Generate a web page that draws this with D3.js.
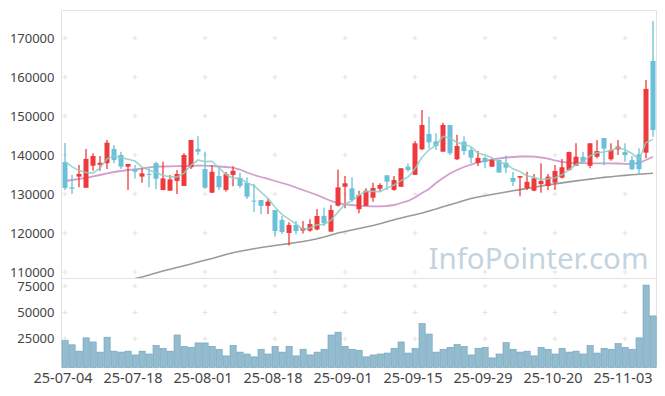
<!DOCTYPE html>
<html>
<head>
<meta charset="utf-8">
<script src="https://cdn.jsdelivr.net/npm/d3@7"></script>
<style>
  body { margin: 0; background: #fff; }
  text { font-family: "Noto Sans", sans-serif; }
</style>
</head>
<body>
<div id="chart"></div>
<script>
// trading days shown on the chart
var dates = [
  "25-07-04", "25-07-07", "25-07-08", "25-07-09", "25-07-10", "25-07-11", "25-07-14", "25-07-15", "25-07-16", "25-07-17",
  "25-07-18", "25-07-21", "25-07-22", "25-07-23", "25-07-24", "25-07-25", "25-07-28", "25-07-29", "25-07-30", "25-07-31",
  "25-08-01", "25-08-04", "25-08-05", "25-08-06", "25-08-07", "25-08-08", "25-08-11", "25-08-12", "25-08-13", "25-08-14",
  "25-08-18", "25-08-19", "25-08-20", "25-08-21", "25-08-22", "25-08-25", "25-08-26", "25-08-27", "25-08-28", "25-08-29",
  "25-09-01", "25-09-02", "25-09-03", "25-09-04", "25-09-05", "25-09-08", "25-09-09", "25-09-10", "25-09-11", "25-09-12",
  "25-09-15", "25-09-16", "25-09-17", "25-09-18", "25-09-19", "25-09-22", "25-09-23", "25-09-24", "25-09-25", "25-09-26",
  "25-09-29", "25-09-30", "25-10-01", "25-10-02", "25-10-10", "25-10-13", "25-10-14", "25-10-15", "25-10-16", "25-10-17",
  "25-10-20", "25-10-21", "25-10-22", "25-10-23", "25-10-24", "25-10-27", "25-10-28", "25-10-29", "25-10-30", "25-10-31",
  "25-11-03", "25-11-04", "25-11-05", "25-11-06", "25-11-07"
];

var openPrice = [
  138200, 131700, 134450, 131600, 137250, 137500, 137900, 141550, 140000, 137000,
  136400, 134450, 135150, 137900, 131000, 130850, 133350, 132050, 136850, 141550,
  136400, 130350, 134600, 131050, 134900, 134100, 132850, 128300, 128450, 126950,
  125900, 123350, 120000, 122050, 120600, 120600, 120900, 124400, 120350, 127000,
  131850, 131450, 126100, 126950, 129050, 131350, 134800, 131050, 131850, 137000,
  134900, 141450, 145400, 143500, 140850, 147700, 138900, 143450, 141300, 138000,
  139250, 137000, 138700, 138000, 134100, 134200, 131450, 130850, 132550, 132050,
  132900, 134200, 136150, 137250, 139500, 137250, 139550, 144350, 138900, 141450,
  140750, 138700, 140200, 140600, 164100
];
var highPrice = [
  143100, 134900, 137450, 141550, 140450, 139750, 143850, 142550, 140850, 137700,
  137450, 136600, 136600, 138300, 138300, 134900, 136150, 140450, 143850, 144800,
  140850, 137450, 137000, 135650, 137100, 135450, 134200, 132600, 128450, 128800,
  125900, 124350, 122750, 123050, 123050, 123500, 126150, 126550, 127200, 136300,
  134600, 134300, 130850, 131450, 132900, 132750, 134800, 134600, 136600, 137900,
  143600, 151550, 149800, 145550, 148300, 147700, 145200, 144800, 142050, 141000,
  139600, 138950, 138700, 139900, 135650, 134600, 135700, 135150, 137900, 135150,
  137450, 138950, 140850, 143000, 140850, 143000, 143850, 144350, 143000, 143850,
  143000, 139750, 141700, 159250, 174350
];
var lowPrice = [
  131000, 130000, 131700, 131600, 135950, 135950, 136400, 137900, 136400, 131000,
  134000, 132900, 131700, 131200, 131000, 130750, 130000, 132050, 136400, 140000,
  131300, 130200, 131000, 130650, 132000, 131550, 128700, 125400, 124800, 124850,
  119050, 119750, 116800, 119600, 119900, 120350, 120700, 121800, 120350, 126800,
  126350, 128000, 125050, 126950, 128000, 130600, 131000, 130850, 131850, 135700,
  134900, 141300, 141700, 141300, 140850, 140000, 138700, 140000, 137950, 137200,
  136600, 137000, 135500, 135400, 132050, 129400, 131050, 130700, 130300, 131050,
  131050, 134000, 135950, 137250, 137900, 136600, 139150, 137350, 138550, 140000,
  138300, 136150, 134900, 139150, 144700
];
var closePrice = [
  131550, 131350, 135150, 139000, 139750, 138000, 143150, 138700, 137000, 137700,
  135700, 135300, 134950, 133900, 134000, 133750, 135150, 140000, 143850, 140850,
  131600, 135700, 131700, 135150, 135950, 132050, 129300, 128100, 126950, 128050,
  120500, 120250, 122050, 120500, 121300, 122300, 124350, 122500, 125900, 131700,
  132750, 128450, 129750, 130850, 131550, 132300, 133150, 133600, 136600, 136150,
  143000, 147700, 143250, 142300, 147700, 140450, 142300, 141000, 139300, 139250,
  138200, 138700, 135500, 136750, 133150, 134600, 133100, 134000, 133350, 134450,
  135900, 136850, 140750, 139550, 138200, 143000, 141000, 141650, 141300, 142150,
  140000, 136350, 136350, 156950, 146400
];

// moving averages as drawn (5, 20 and 60 day)
var ma5 = [
  138300, 137000, 136000, 135500, 135360, 136650, 139010, 139720, 139320, 138910,
  138450, 136880, 136130, 135510, 134770, 134380, 134350, 135360, 137350, 138720,
  138290, 138400, 136740, 135000, 134020, 134110, 132830, 132110, 130470, 128890,
  126580, 124770, 123560, 122270, 120920, 121280, 122100, 122190, 123270, 125350,
  127440, 128260, 129710, 130700, 130670, 130580, 131520, 132290, 133440, 134360,
  136500, 139410, 141340, 142480, 144790, 144280, 143200, 142750, 142150, 140460,
  140010, 139290, 138190, 137680, 136460, 135740, 134620, 134320, 133640, 133900,
  134160, 134910, 136260, 137500, 138350, 139770, 140600, 140780, 141130, 141920,
  141320, 140390, 138870, 143200, 144010
];
var ma20 = [
  133330, 133590, 133850, 134100, 134490, 134870, 135260, 135640, 135900, 136150,
  136330, 136540, 136800, 137000, 137050, 137100, 137130, 137180, 137230, 137260,
  137260, 137180, 137050, 136920, 136740, 136280, 135510, 134870, 134360, 133850,
  133330, 132820, 132310, 131670, 131030, 130390, 129740, 128970, 128210, 127690,
  127360, 127180, 126970, 126870, 126850, 126850, 126920, 127180, 127690, 128210,
  129100, 130260, 131280, 132820, 134100, 135260, 136150, 136920, 137560, 138080,
  138460, 138850, 139100, 139360, 139490, 139620, 139620, 139560, 139360, 139050,
  138590, 138210, 138030, 137950, 137900, 137870, 137870, 137870, 137870, 137820,
  137740, 137690, 137950, 138720, 139560
];
var ma60 = [
  null, null, null, null, null, null, null, null, null, null,
  108330, 108720, 109230, 109740, 110250, 110710, 111150, 111590, 112050, 112570,
  113030, 113460, 113980, 114490, 114950, 115310, 115640, 115950, 116260, 116540,
  116800, 117050, 117280, 117570, 117820, 118150, 118540, 118980, 119490, 120000,
  120390, 120770, 121150, 121540, 121920, 122390, 122870, 123390, 123850, 124280,
  124690, 125130, 125640, 126150, 126720, 127230, 127740, 128330, 128850, 129230,
  129540, 129870, 130180, 130510, 130820, 131130, 131440, 131740, 132050, 132330,
  132590, 132850, 133100, 133360, 133590, 133820, 134050, 134260, 134440, 134620,
  134770, 134920, 135050, 135180, 135310
];

var volume = [
  23200, 19300, 13300, 25900, 22000, 12400, 26500, 13300, 12400, 13300,
  9700, 13300, 10600, 18700, 16000, 13300, 28600, 17800, 16900, 21100,
  21100, 17800, 15100, 8800, 18700, 12400, 10600, 7900, 15100, 10600,
  17800, 12400, 17800, 8800, 15100, 9700, 12400, 15100, 28600, 31300,
  17800, 15100, 14200, 7900, 9700, 10600, 11500, 16000, 22000, 11500,
  16000, 39500, 29500, 12400, 15100, 16900, 19600, 17800, 9700, 16000,
  16900, 6900, 10600, 21400, 15100, 12400, 13300, 8800, 16900, 15100,
  10600, 16000, 12400, 13300, 10600, 18700, 11500, 16000, 15100, 20500,
  16900, 15100, 25900, 75900, 46700
];

var xTickLabels = ["25-07-04", "25-07-18", "25-08-01", "25-08-18", "25-09-01", "25-09-15", "25-09-29", "25-10-20", "25-11-03"];
var priceTicks = [110000, 120000, 130000, 140000, 150000, 160000, 170000];
var volumeTicks = [25000, 50000, 75000];

// set the dimensions and margins of the graph
var margin = { top: 10, right: 8.5, bottom: 28.5, left: 61.5 },
  width = 665 - margin.left - margin.right,
  priceHeight = 268,
  volHeight = 89.5;

var upColor = "#ef3a3d",
  downColor = "#6bc0d9";

var svg = d3
  .select("#chart")
  .append("svg")
  .attr("width", 665)
  .attr("height", 396)
  .append("g")
  .attr("transform", "translate(" + margin.left + "," + margin.top + ")");

var x = d3.scaleBand().domain(dates).range([0, width]);
var y = d3.scaleLinear().domain([108460, 177180]).range([priceHeight, 0]);
var yVol = d3.scaleLinear().domain([-2200, 82600]).range([priceHeight + volHeight, priceHeight]);

function cx(i) {
  return x(dates[i]) + x.bandwidth() / 2;
}

svg.append("clipPath").attr("id", "priceClip")
  .append("rect").attr("width", width).attr("height", priceHeight);

// watermark
svg.append("text")
  .attr("x", width - 8)
  .attr("y", 259)
  .attr("text-anchor", "end")
  .style("font-size", "29.5px")
  .style("fill", "#c3d4df")
  .text("InfoPointer.com");

// grid crosses
var crossPts = [];
xTickLabels.forEach(function (d) {
  var px = x(d) + x.bandwidth() / 2;
  priceTicks.forEach(function (t) { crossPts.push([px, y(t)]); });
  volumeTicks.forEach(function (t) { crossPts.push([px, yVol(t)]); });
});
svg.append("g").selectAll("path").data(crossPts).enter().append("path")
  .attr("d", function (d) { return "M" + (d[0] - 2.5) + "," + d[1] + "h5M" + d[0] + "," + (d[1] - 2.5) + "v5"; })
  .attr("stroke", "#e2e2e2")
  .attr("stroke-width", 1);

// frame
var frame = svg.append("g").attr("stroke", "#e2e2e2").attr("fill", "none");
frame.append("path").attr("d", "M0," + (priceHeight + volHeight) + "V0.5H" + width + "V" + (priceHeight + volHeight));
frame.append("path").attr("d", "M0," + (priceHeight + 0.5) + "H" + width);

// y axes
var yAxis = svg.append("g").call(d3.axisLeft(y).tickValues(priceTicks).tickSize(0).tickPadding(7).tickFormat(d3.format("d")));
var vAxis = svg.append("g").call(d3.axisLeft(yVol).tickValues(volumeTicks).tickSize(0).tickPadding(7).tickFormat(d3.format("d")));
[yAxis, vAxis].forEach(function (a) {
  a.select(".domain").remove();
  a.selectAll("text").style("font-size", "13px").style("fill", "#444").style("font-family", "'Noto Sans', sans-serif");
});

// x labels
svg.append("g").selectAll("text").data(xTickLabels).enter().append("text")
  .attr("x", function (d) { return x(d) + x.bandwidth() / 2 - 2; })
  .attr("y", priceHeight + volHeight + 15)
  .attr("text-anchor", "middle")
  .style("font-size", "14.5px")
  .style("fill", "#444")
  .text(function (d) { return d; });

// volume bars
svg.append("g").selectAll("rect").data(volume).enter().append("rect")
  .attr("x", function (d, i) { return x(dates[i]) + 0.5; })
  .attr("width", x.bandwidth() - 0.8)
  .attr("y", function (d) { return yVol(d); })
  .attr("height", function (d) { return priceHeight + volHeight - yVol(d); })
  .attr("fill", "#93bccf")
  .attr("stroke", "#6e9fb8")
  .attr("stroke-width", 0.6);

var plot = svg.append("g").attr("clip-path", "url(#priceClip)");

// moving average lines
function maLine(values) {
  return d3.line()
    .defined(function (d) { return d !== null; })
    .x(function (d, i) { return cx(i); })
    .y(function (d) { return y(d); })(values);
}
plot.append("path").attr("d", maLine(ma60)).attr("fill", "none").attr("stroke", "#9a9a9a").attr("stroke-width", 1.6);
plot.append("path").attr("d", maLine(ma20)).attr("fill", "none").attr("stroke", "#cf92c8").attr("stroke-width", 1.8).attr("opacity", 0.9);

// candles
var candles = plot.append("g").selectAll("g").data(dates).enter().append("g");
candles.append("line")
  .attr("x1", function (d, i) { return cx(i); })
  .attr("x2", function (d, i) { return cx(i); })
  .attr("y1", function (d, i) { return y(highPrice[i]); })
  .attr("y2", function (d, i) { return y(lowPrice[i]); })
  .attr("stroke", function (d, i) { return closePrice[i] >= openPrice[i] ? upColor : downColor; })
  .attr("stroke-width", 1.3);
candles.append("rect")
  .attr("x", function (d, i) { return cx(i) - 2.5; })
  .attr("width", 5)
  .attr("y", function (d, i) { return y(Math.max(openPrice[i], closePrice[i])); })
  .attr("height", function (d, i) { return Math.max(1, Math.abs(y(openPrice[i]) - y(closePrice[i]))); })
  .attr("fill", function (d, i) { return closePrice[i] >= openPrice[i] ? upColor : downColor; });

plot.append("path").attr("d", maLine(ma5)).attr("fill", "none").attr("stroke", "#8ccfc3").attr("stroke-width", 1.6).attr("opacity", 0.85);
</script>
</body>
</html>
